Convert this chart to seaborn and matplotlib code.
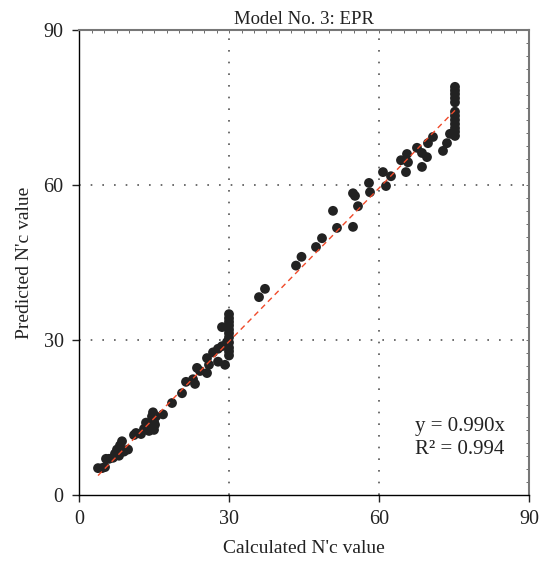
import numpy as np
import pandas as pd
import seaborn as sns
import matplotlib.pyplot as plt
from matplotlib.ticker import MultipleLocator

# calculated vs predicted N'c
calc = [3.8, 4.6, 5.2, 5.4, 6.0, 6.8, 7.2, 7.6, 8.0, 8.2, 8.6, 9.0, 9.8,
        11.0, 11.4, 12.4, 13.0, 13.4, 14.0, 14.4, 14.6, 14.8, 15.0, 15.0, 15.2, 15.4,
        16.8, 18.6, 20.6, 21.4, 23.2, 22.8, 23.6, 24.2, 25.6, 25.6, 26.0, 26.8,
        27.8, 27.8, 28.6, 29.2, 29.6,
        30.0, 30.0, 30.0, 30.0, 30.0, 30.0, 30.0, 30.0, 30.0, 30.0, 30.0, 28.6,
        36.0, 37.2, 43.4, 44.5, 47.4, 48.6, 50.8, 51.6, 54.8, 54.8, 55.2, 55.8,
        58.0, 58.2, 60.8, 61.4, 62.4, 64.4, 65.6, 65.8, 65.4, 67.6, 68.6, 68.6,
        69.6, 69.8, 70.8, 72.8, 73.6, 74.2,
        75.2, 75.2, 75.2, 75.2, 75.2, 75.2, 75.2, 75.2, 75.2, 75.2, 75.2, 75.2]
pred = [5.2, 5.2, 5.4, 7.0, 7.0, 7.2, 8.0, 8.8, 7.6, 9.6, 10.4, 8.4, 8.8,
        11.6, 12.0, 11.8, 12.8, 14.0, 12.4, 13.2, 15.2, 16.0, 14.2, 12.6, 13.6, 15.2,
        15.6, 17.8, 19.7, 21.9, 21.5, 22.4, 24.6, 24.0, 26.5, 23.6, 25.2, 27.6,
        28.3, 25.8, 28.8, 25.2, 29.6,
        27.0, 27.8, 28.5, 29.5, 30.5, 31.3, 32.0, 32.8, 33.5, 34.2, 35.0, 32.5,
        38.3, 39.9, 44.4, 46.1, 48.0, 49.7, 55.0, 51.7, 51.9, 58.4, 57.9, 55.9,
        60.4, 58.6, 62.5, 59.8, 61.7, 64.8, 66.0, 64.4, 62.5, 67.2, 66.2, 63.5,
        65.4, 68.1, 69.3, 66.6, 68.1, 69.9,
        69.5, 70.3, 71.0, 71.8, 72.6, 73.4, 74.2, 76.0, 76.8, 77.6, 78.3, 79.0]

slope = 0.990
fit_x = [3.8, 75.2]

df = pd.DataFrame({"calc": calc, "pred": pred})

sns.set_style("ticks")
plt.rcParams['font.family'] = ['Liberation Serif', 'DejaVu Serif']

fig = plt.figure(figsize=(5.39, 5.63), dpi=100)
ax = fig.add_axes([0.1466, 0.1208, 0.8348, 0.8259])

sns.scatterplot(data=df, x="calc", y="pred", ax=ax, s=50, color="#222222",
                edgecolor="none", zorder=3)
ax.plot(fit_x, [slope * v for v in fit_x], color="#f04a2a", lw=1.0,
        dashes=(4, 3), zorder=4)

ax.set_xlim(0, 90)
ax.set_ylim(0, 90)
ax.set_xticks([0, 30, 60, 90])
ax.set_yticks([0, 30, 60, 90])

# dotted grid at 30 and 60
for v in [30, 60]:
    ax.axvline(v, color="#555555", lw=1.2, ls=(0, (1, 6)), zorder=1)
    ax.axhline(v, color="#555555", lw=1.2, ls=(0, (1, 6)), zorder=1)

ax.tick_params(axis="both", which="major", direction="out", length=5,
               width=1, labelsize=14.5, colors="#222222", pad=6)
ax.tick_params(axis="both", which="minor", bottom=False, left=False)

# gray top/right spines with small inward ticks
for side in ["top", "right"]:
    ax.spines[side].set_color("#777777")
    ax.spines[side].set_linewidth(1.5)
for side in ["left", "bottom"]:
    ax.spines[side].set_color("black")
    ax.spines[side].set_linewidth(1.0)

sec_x = ax.secondary_xaxis("top")
sec_x.set_xticks([])
sec_x.xaxis.set_minor_locator(MultipleLocator(2.5))
sec_x.tick_params(which="minor", direction="in", length=2, color="#555555")
sec_x.spines["top"].set_visible(False)
sec_y = ax.secondary_yaxis("right")
sec_y.set_yticks([])
sec_y.yaxis.set_minor_locator(MultipleLocator(2.5))
sec_y.tick_params(which="minor", direction="in", length=2, color="#555555")
sec_y.spines["right"].set_visible(False)

ax.set_xlabel("Calculated N'c value", fontsize=14, labelpad=8, color="#222222")
ax.set_ylabel("Predicted N'c value", fontsize=14, labelpad=8, color="#222222")
ax.set_title("Model No. 3: EPR", fontsize=13.5, pad=4, color="#222222")

ax.text(67.2, 7.0, "y = 0.990x\nR\u00b2 = 0.994", fontsize=15, color="#222222",
        ha="left", va="bottom", linespacing=1.25)

fig.savefig("out.png", dpi=100)
